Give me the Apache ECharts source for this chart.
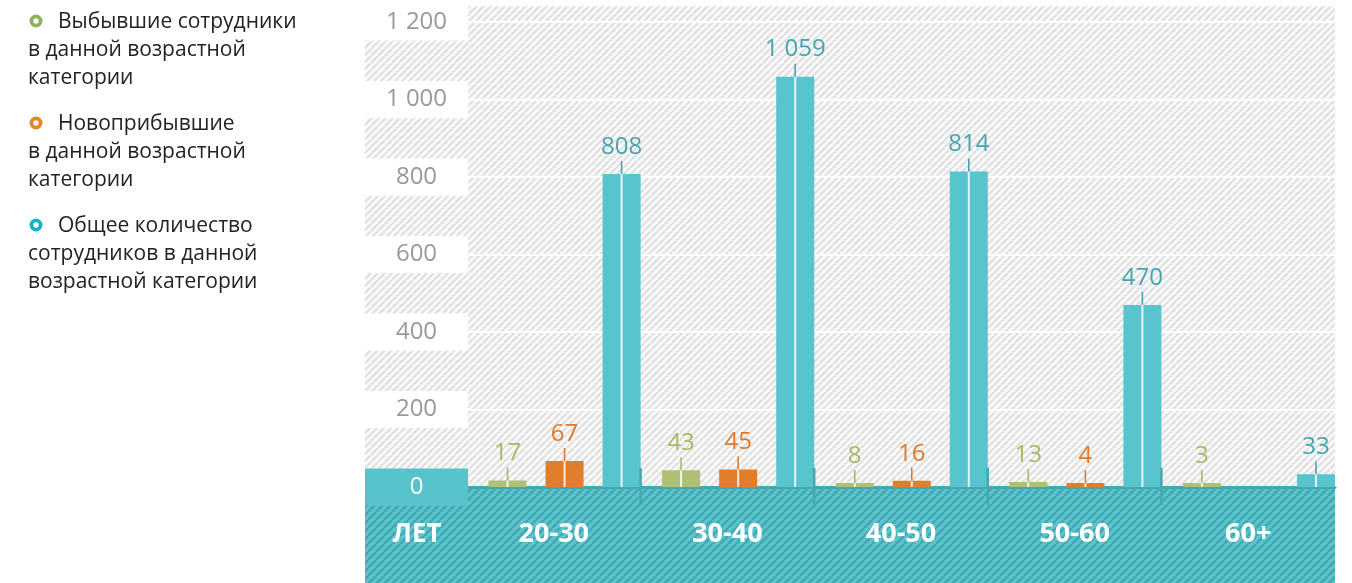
<!DOCTYPE html>
<html>
<head>
<meta charset="utf-8">
<script src="https://cdn.jsdelivr.net/npm/echarts@6/dist/echarts.min.js"></script>
<style>
html,body{margin:0;padding:0;background:#fff;}
#chart{width:1352px;height:583px;}
</style>
</head>
<body>
<div id="chart"></div>
<script>
// ---- data ----
var categories = ['20-30', '30-40', '40-50', '50-60', '60+'];
var leftValues = [17, 43, 8, 13, 3];          // Выбывшие
var newValues = [67, 45, 16, 4, null];        // Новоприбывшие
var totalValues = [808, 1059, 814, 470, 33];  // Общее количество
var yTicks = [0, 200, 400, 600, 800, 1000, 1200];
var axisUnit = 'ЛЕТ';
var legendNames = [
  ['Выбывшие сотрудники', 'в данной возрастной', 'категории'],
  ['Новоприбывшие', 'в данной возрастной', 'категории'],
  ['Общее количество', 'сотрудников в данной', 'возрастной категории']
];

var FONT = 'Open Sans';

function fmt(v) { return String(v).replace(/\B(?=(\d{3})+(?!\d))/g, ' '); }

function hatch(bg, fg, period, lw) {
  var c = document.createElement('canvas');
  c.width = period; c.height = period;
  var ctx = c.getContext('2d');
  ctx.fillStyle = bg; ctx.fillRect(0, 0, period, period);
  ctx.strokeStyle = fg; ctx.lineWidth = lw;
  ctx.beginPath();
  for (var k = -1; k <= 1; k++) { ctx.moveTo(k * period, period); ctx.lineTo(k * period + period, 0); }
  ctx.stroke();
  return c;
}
var grayHatch = hatch('#fbfbfb', '#e1e1e1', 7, 2.4);
var tealHatch = hatch('#5bc6cf', '#45a9b2', 8, 2.8);

function makeRender(barColor, labelColor, offFrac) {
  return function (params, api) {
    var v = api.value(1);
    if (v == null || isNaN(v)) return;
    var idx = api.value(0);
    var top = api.coord([idx, v]);
    var base = api.coord([idx, 0]);
    var band = api.size([1, 0])[0];
    var w = band * 0.219;
    var cx = base[0] + band * offFrac;
    var y0 = base[1];
    var y1 = Math.min(top[1], y0 - 4);
    return {
      type: 'group',
      children: [
        { type: 'rect', shape: { x: cx - w / 2, y: y1, width: w, height: y0 - y1 }, style: { fill: barColor } },
        { type: 'line', shape: { x1: cx, y1: y1, x2: cx, y2: y0 }, style: { stroke: 'rgba(255,255,255,0.85)', lineWidth: 2 } },
        { type: 'line', shape: { x1: cx, y1: y1 - 13, x2: cx, y2: y1 }, style: { stroke: labelColor, lineWidth: 1.6 } },
        { type: 'text', x: cx, y: y1 - 27, style: { text: fmt(v), fill: labelColor, font: '24px "' + FONT + '"', align: 'center', verticalAlign: 'middle' } }
      ]
    };
  };
}

function sepRender(params, api) {
  var idx = api.value(0);
  var base = api.coord([idx, 0]);
  var band = api.size([1, 0])[0];
  var x = base[0] + band / 2;
  return { type: 'line', shape: { x1: x, y1: base[1] - 19, x2: x, y2: base[1] + 18 }, style: { stroke: '#45a8b1', lineWidth: 2.5 } };
}

function toData(arr) { return arr.map(function (v, i) { return [i, v]; }); }

var legendColors = ['#8db25b', '#e5852a', '#16b2c3'];
var legendGraphics = [];
var legendTops = [22, 124, 226];
legendNames.forEach(function (lines, i) {
  var y = legendTops[i];
  legendGraphics.push({ type: 'circle', z: 10, shape: { cx: 36, cy: y - 1, r: 4.6 }, style: { fill: '#fff', stroke: legendColors[i], lineWidth: 3.8 } });
  legendGraphics.push({ type: 'text', z: 10, x: 58, y: y, style: { text: lines[0], fill: '#222', font: '21px "' + FONT + '"', verticalAlign: 'middle' } });
  legendGraphics.push({ type: 'text', z: 10, x: 28, y: y + 14, style: { text: lines.slice(1).join('\n'), fill: '#222', font: '21px "' + FONT + '"', lineHeight: 28, verticalAlign: 'top' } });
});

var chart = echarts.init(document.getElementById('chart'));
chart.setOption({
  animation: false,
  textStyle: { fontFamily: FONT },
  grid: { left: 467, right: 17, top: 22, bottom: 96 },
  graphic: [
    { type: 'rect', z: -10, shape: { x: 365, y: 6, width: 970, height: 481 }, style: { fill: { image: grayHatch, repeat: 'repeat' } } },
    { type: 'rect', z: -10, shape: { x: 365, y: 487, width: 970, height: 96 }, style: { fill: { image: tealHatch, repeat: 'repeat' } } },
    { type: 'text', z: 10, x: 417, y: 535, style: { text: axisUnit, fill: '#fff', font: 'bold 26px "' + FONT + '"', align: 'center', verticalAlign: 'middle' } }
  ].concat(legendGraphics),
  xAxis: {
    type: 'category',
    data: categories,
    axisLine: { show: true, lineStyle: { color: '#45a8b1', width: 3 } },
    axisTick: { show: false },
    splitLine: { show: false },
    axisLabel: { color: '#fff', fontWeight: 'bold', fontSize: 27, margin: 34, fontFamily: FONT }
  },
  yAxis: {
    type: 'value',
    min: yTicks[0],
    max: yTicks[yTicks.length - 1],
    interval: yTicks[1] - yTicks[0],
    axisLine: { show: false },
    axisTick: { show: false },
    splitLine: { show: true, lineStyle: { color: '#ffffff', width: 2 } },
    axisLabel: {
      margin: -1,
      formatter: function (v) { return v === 0 ? '{z|0}' : '{n|' + fmt(v) + '}'; },
      rich: {
        n: { width: 103, height: 37, lineHeight: 37, align: 'center', backgroundColor: '#ffffff', color: '#999999', fontSize: 24, fontFamily: FONT },
        z: { width: 103, height: 37, lineHeight: 37, align: 'center', backgroundColor: '#56c3cd', color: '#ffffff', fontSize: 24, fontFamily: FONT }
      }
    }
  },
  series: [
    { name: 'Выбывшие сотрудники в данной возрастной категории', type: 'custom', renderItem: makeRender('#afbf73', '#a7b967', -0.2666), encode: { x: 0, y: 1 }, data: toData(leftValues), z: 5 },
    { name: 'Новоприбывшие в данной возрастной категории', type: 'custom', renderItem: makeRender('#e07e2c', '#e07a2a', 0.062), encode: { x: 0, y: 1 }, data: toData(newValues), z: 5 },
    { name: 'Общее количество сотрудников в данной возрастной категории', type: 'custom', renderItem: makeRender('#57c4ce', '#45a6b0', 0.3905), encode: { x: 0, y: 1 }, data: toData(totalValues), z: 5 },
    { name: 'sep', type: 'custom', renderItem: sepRender, clip: false, encode: { x: 0, y: 1 }, data: toData([0, 0, 0, 0]), z: 6, silent: true }
  ]
});
</script>
</body>
</html>
